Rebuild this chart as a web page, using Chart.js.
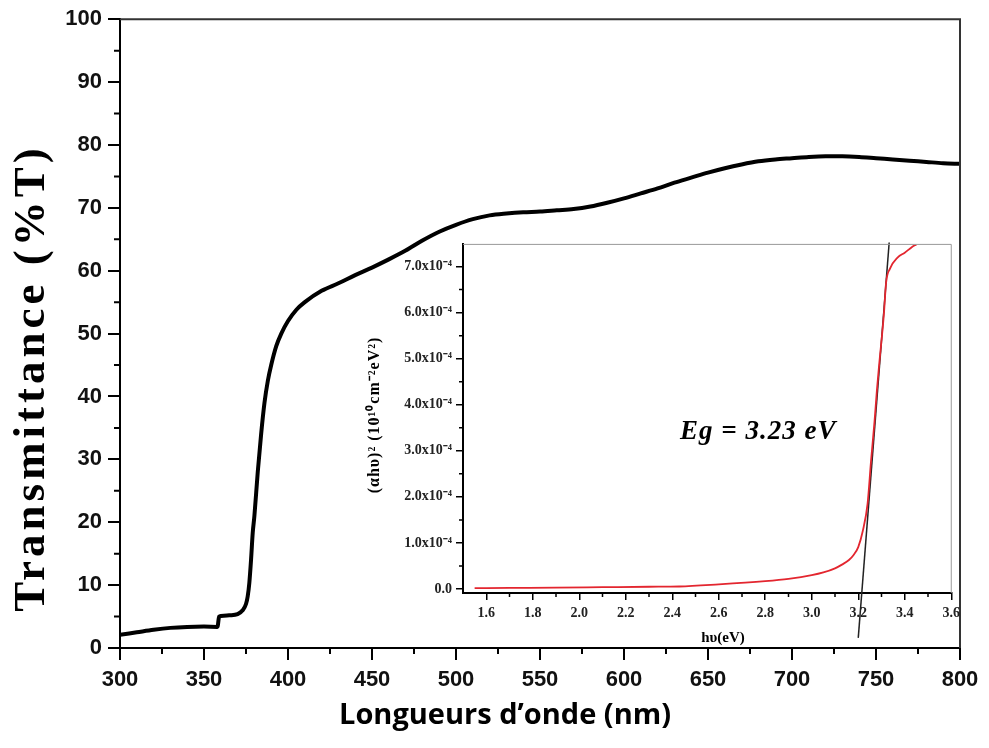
<!DOCTYPE html>
<html>
<head>
<meta charset="utf-8">
<script src="https://cdn.jsdelivr.net/npm/chart.js@4.4.1/dist/chart.umd.min.js"></script>
<style>
  html, body { margin: 0; padding: 0; background: #fff; }
  #wrap { position: relative; width: 989px; height: 748px; }
  #mainChart { position: absolute; left: 0; top: 0; }
  #insetChart { position: absolute; left: 360px; top: 232px; }
</style>
</head>
<body>
<div id="wrap">
  <canvas id="mainChart" width="989" height="748"></canvas>
  <canvas id="insetChart" width="605" height="420"></canvas>
</div>
<script>
// ========================================
// TRANSMITTANCE + GAP OPTIQUE (Tauc)
// ========================================

// Spectre de transmittance
const wavelength = [300, 310, 320, 330, 340, 350, 358, 359, 360, 365, 370, 373, 375, 376, 377, 378, 379, 380,
    382, 384, 386, 388, 390, 393, 396, 400, 405, 410, 420, 430, 440, 450, 460, 470, 480, 490, 500,
    510, 520, 530, 540, 550, 560, 570, 580, 590, 600, 610, 620, 630, 640, 650, 660, 670, 680, 690,
    700, 710, 720, 730, 740, 750, 760, 770, 780, 790, 800];
const transmittance = [2.1, 2.5, 2.9, 3.2, 3.35, 3.4, 3.35, 5.0, 5.1, 5.2, 5.4, 6.0, 7.0, 8.2, 10.4, 14, 18.3, 21,
    28, 34, 39, 42.5, 45, 48, 50, 52, 53.8, 55, 56.8, 58, 59.3, 60.5, 61.8, 63.2, 64.8, 66.2, 67.3,
    68.2, 68.8, 69.1, 69.3, 69.4, 69.6, 69.8, 70.2, 70.8, 71.5, 72.3, 73.1, 74, 74.8, 75.6, 76.3, 76.9, 77.4, 77.7,
    77.9, 78.1, 78.2, 78.2, 78.1, 77.9, 77.7, 77.5, 77.3, 77.1, 77.0];

// Tracé de Tauc (encart), (αhυ)² en unités de 10⁻⁴
const photonEnergy = [1.55, 1.7, 1.9, 2.1, 2.3, 2.43, 2.6, 2.8, 2.9, 3.0, 3.05, 3.1, 3.13, 3.16, 3.18, 3.2,
    3.22, 3.24, 3.255, 3.27, 3.28, 3.29, 3.31, 3.32, 3.336, 3.37, 3.40, 3.43, 3.45];
const absorption = [0.02, 0.025, 0.03, 0.04, 0.05, 0.055, 0.1, 0.17, 0.22, 0.30, 0.36, 0.45, 0.53, 0.63, 0.74, 0.91,
    1.27, 1.85, 2.78, 3.64, 4.3, 4.87, 5.95, 6.66, 6.95, 7.2, 7.3, 7.42, 7.48];

// Tangente (extrapolation du gap)
const tangentEnergy = [3.20, 3.333];
const tangentValue = [-1.06, 7.52];

// Graduations
const mainXTicks = [300, 350, 400, 450, 500, 550, 600, 650, 700, 750, 800];
const mainXMinor = [325, 375, 425, 475, 525, 575, 625, 675, 725, 775];
const mainYTicks = [0, 10, 20, 30, 40, 50, 60, 70, 80, 90, 100];
const mainYMinor = [5, 15, 25, 35, 45, 55, 65, 75, 85, 95];
const insetXTicks = [1.6, 1.8, 2.0, 2.2, 2.4, 2.6, 2.8, 3.0, 3.2, 3.4, 3.6];
const insetXMinor = [1.7, 1.9, 2.1, 2.3, 2.5, 2.7, 2.9, 3.1, 3.3, 3.5];
const insetYTicks = [0, 1, 2, 3, 4, 5, 6, 7];
const insetYMinor = [0.5, 1.5, 2.5, 3.5, 4.5, 5.5, 6.5];

const toPoints = (xs, ys) => xs.map((x, i) => ({ x: x, y: ys[i] }));

// Petites graduations + cadre
const minorTicks = {
    id: 'minorTicks',
    afterDraw(chart, args, opts) {
        const ctx = chart.ctx;
        const area = chart.chartArea;
        const xs = chart.scales.x;
        const ys = chart.scales.y;
        ctx.save();
        // cadre haut / droite
        ctx.strokeStyle = opts.frameColor;
        ctx.lineWidth = opts.frameWidth;
        ctx.beginPath();
        ctx.moveTo(area.left, area.top);
        ctx.lineTo(area.right, area.top);
        ctx.lineTo(area.right, area.bottom);
        ctx.stroke();
        ctx.strokeStyle = '#000';
        ctx.lineWidth = opts.width;
        ctx.beginPath();
        opts.x.forEach(v => {
            const px = xs.getPixelForValue(v);
            ctx.moveTo(px, area.bottom);
            ctx.lineTo(px, area.bottom + opts.len);
        });
        opts.y.forEach(v => {
            const py = ys.getPixelForValue(v);
            ctx.moveTo(area.left, py);
            ctx.lineTo(area.left - opts.len, py);
        });
        ctx.stroke();
        ctx.restore();
    }
};

// Titres et annotations
const labels = {
    id: 'labels',
    afterDraw(chart, args, opts) {
        const ctx = chart.ctx;
        ctx.save();
        ctx.fillStyle = '#000';
        opts.items.forEach(t => {
            ctx.save();
            ctx.translate(t.x, t.y);
            ctx.rotate(t.rotate || 0);
            ctx.font = t.font;
            ctx.letterSpacing = t.spacing || '0px';
            ctx.textAlign = t.align || 'center';
            ctx.textBaseline = 'middle';
            ctx.fillText(t.text, 0, 0);
            ctx.restore();
        });
        ctx.restore();
    }
};

// Graphique principal
new Chart(document.getElementById('mainChart'), {
    type: 'line',
    data: {
        datasets: [{
            data: toPoints(wavelength, transmittance),
            borderColor: '#000',
            borderWidth: 4,
            pointRadius: 0,
            cubicInterpolationMode: 'monotone'
        }]
    },
    options: {
        responsive: false,
        animation: false,
        layout: { padding: { top: 18, right: 29, left: 0, bottom: 0 } },
        plugins: {
            legend: { display: false },
            tooltip: { enabled: false },
            minorTicks: { x: mainXMinor, y: mainYMinor, len: 6, width: 2, frameColor: '#333', frameWidth: 2 },
            labels: {
                items: [
                    { text: 'Transmittance (%T)', x: 32, y: 378, rotate: -Math.PI / 2,
                      font: 'bold 45px "Liberation Serif"', spacing: '4px' },
                    { text: 'Longueurs d\u2019onde (nm)', x: 505, y: 716,
                      font: 'bold 29px "Open Sans"' }
                ]
            }
        },
        scales: {
            x: {
                type: 'linear',
                min: 300,
                max: 800,
                afterBuildTicks: s => { s.ticks = mainXTicks.map(v => ({ value: v })); },
                afterFit: s => { s.height = 100; },
                grid: { drawOnChartArea: false, drawTicks: true, tickLength: 12, color: '#000', lineWidth: 2 },
                border: { display: true, color: '#000', width: 2 },
                ticks: { color: '#111', padding: 7, maxRotation: 0, font: { family: 'Liberation Sans', size: 22, weight: 'bold' } }
            },
            y: {
                min: 0,
                max: 100,
                afterBuildTicks: s => { s.ticks = mainYTicks.map(v => ({ value: v })); },
                afterFit: s => { s.width = 120; },
                grid: { drawOnChartArea: false, drawTicks: true, tickLength: 12, color: '#000', lineWidth: 2 },
                border: { display: true, color: '#000', width: 2 },
                ticks: { color: '#111', padding: 6, font: { family: 'Liberation Sans', size: 22, weight: 'bold' } }
            }
        }
    },
    plugins: [minorTicks, labels]
});

// Encart : (αhυ)² en fonction de hυ
new Chart(document.getElementById('insetChart'), {
    type: 'line',
    data: {
        datasets: [{
            data: toPoints(photonEnergy, absorption),
            borderColor: '#e3262f',
            borderWidth: 1.8,
            pointRadius: 0,
            cubicInterpolationMode: 'monotone'
        }, {
            data: toPoints(tangentEnergy, tangentValue),
            borderColor: '#222',
            borderWidth: 1.5,
            pointRadius: 0,
            clip: false
        }]
    },
    options: {
        responsive: false,
        animation: false,
        layout: { padding: { top: 10, right: 12, left: 0, bottom: 0 } },
        plugins: {
            legend: { display: false },
            tooltip: { enabled: false },
            minorTicks: { x: insetXMinor, y: insetYMinor, len: 4, width: 1.5, frameColor: '#999', frameWidth: 1 },
            labels: {
                items: [
                    { text: '(\u03b1h\u03c5)\u00b2 (10\u00b9\u2070cm\u207b\u00b2eV\u00b2)', x: 15, y: 183, rotate: -Math.PI / 2,
                      font: 'bold 16px "Liberation Serif"', spacing: '1px' },
                    { text: 'h\u03c5(eV)', x: 363, y: 406, font: 'bold 15px "Liberation Serif"' },
                    { text: 'Eg = 3.23 eV', x: 320, y: 200, align: 'left', font: 'italic bold 27px "Liberation Serif"', spacing: '1px' }
                ]
            }
        },
        scales: {
            x: {
                type: 'linear',
                min: 1.5,
                max: 3.6,
                afterBuildTicks: s => { s.ticks = insetXTicks.map(v => ({ value: v })); },
                afterFit: s => { s.height = 59; },
                grid: { drawOnChartArea: false, drawTicks: true, tickLength: 7, color: '#000', lineWidth: 1.5 },
                border: { display: true, color: '#000', width: 2 },
                ticks: {
                    color: '#222', padding: 5, maxRotation: 0,
                    font: { family: 'Liberation Serif', size: 14, weight: 'bold' },
                    callback: v => v.toFixed(1)
                }
            },
            y: {
                min: -0.086,
                max: 7.48,
                afterBuildTicks: s => { s.ticks = insetYTicks.map(v => ({ value: v })); },
                afterFit: s => { s.width = 103; },
                grid: { drawOnChartArea: false, drawTicks: true, tickLength: 7, color: '#000', lineWidth: 1.5 },
                border: { display: true, color: '#000', width: 2 },
                ticks: {
                    color: '#222', padding: 4,
                    font: { family: 'Liberation Serif', size: 14, weight: 'bold' },
                    callback: v => v === 0 ? '0.0' : v.toFixed(1) + 'x10\u207b\u2074'
                }
            }
        }
    },
    plugins: [minorTicks, labels]
});
</script>
</body>
</html>
